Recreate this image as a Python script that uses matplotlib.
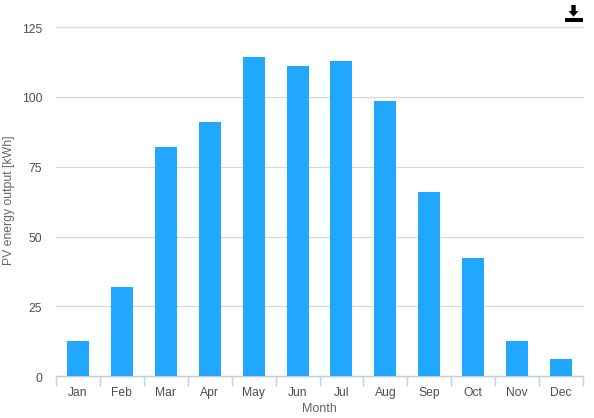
import matplotlib
matplotlib.use('Agg')
import matplotlib.pyplot as plt
from matplotlib.patches import Polygon, Rectangle
from matplotlib.transforms import ScaledTranslation

months = ['Jan', 'Feb', 'Mar', 'Apr', 'May', 'Jun', 'Jul', 'Aug', 'Sep', 'Oct', 'Nov', 'Dec']
output = [12.6, 32, 82, 91, 114.5, 111, 113, 98.5, 66, 42.5, 12.6, 6]
y_ticks = [0, 25, 50, 75, 100, 125]

W, H = 594, 418
plt.rcParams['font.family'] = ['Liberation Sans', 'DejaVu Sans']

fig = plt.figure(figsize=(W / 100, H / 100), dpi=100)
ax = fig.add_axes([56 / W, (H - 376.2) / H, 527 / W, 349 / H])

ax.bar(range(12), output, width=0.5, color='#22a7ff', zorder=3)
ax.set_xlim(-0.5, 11.5)
ax.set_ylim(0, 125)

ax.set_yticks(y_ticks)
ax.set_xticks(range(12))
ax.set_xticklabels(months)
ax.set_xticks([i - 0.5 for i in range(13)], minor=True)
ax.grid(axis='y', color='#d8d8d8', linewidth=0.9, zorder=0)
for line in ax.get_ygridlines():
    line.set_clip_on(False)

for s in ['top', 'right', 'left']:
    ax.spines[s].set_visible(False)
ax.spines['bottom'].set_color('#c0cfe0')
ax.spines['bottom'].set_linewidth(1)

ax.tick_params(axis='y', length=0, labelsize=8.7, labelcolor='#4f4f4f', pad=10)
ax.tick_params(axis='x', which='major', length=0, labelsize=8.7, labelcolor='#4f4f4f', pad=7.5)
ax.tick_params(axis='x', which='minor', length=7, width=1, color='#c0cfe0')

# y labels sit a pixel below their gridlines
for lab in ax.get_yticklabels():
    lab.set_transform(lab.get_transform() + ScaledTranslation(0, -1 / 100, fig.dpi_scale_trans))

fig.text(9.5 / W, 1 - 200 / H, 'PV energy output [kWh]', rotation=90, ha='center', va='center',
         fontsize=8.8, color='#666666')
fig.text(319 / W, 1 - 409 / H, 'Month', ha='center', va='center', fontsize=9, color='#666666')

# download icon, in figure pixels
def px(x, y):
    return (x / W, 1 - y / H)

arrow = [px(571.3, 5), px(575.7, 5), px(575.7, 11), px(578.5, 11), px(573.5, 16.7), px(568.5, 11), px(571.3, 11)]
fig.add_artist(Polygon(arrow, closed=True, transform=fig.transFigure, color='black', linewidth=0))
fig.add_artist(Rectangle(px(565, 21.8), 18 / W, 3.6 / H, transform=fig.transFigure, color='black', linewidth=0))

fig.savefig('out.png', dpi=100)
